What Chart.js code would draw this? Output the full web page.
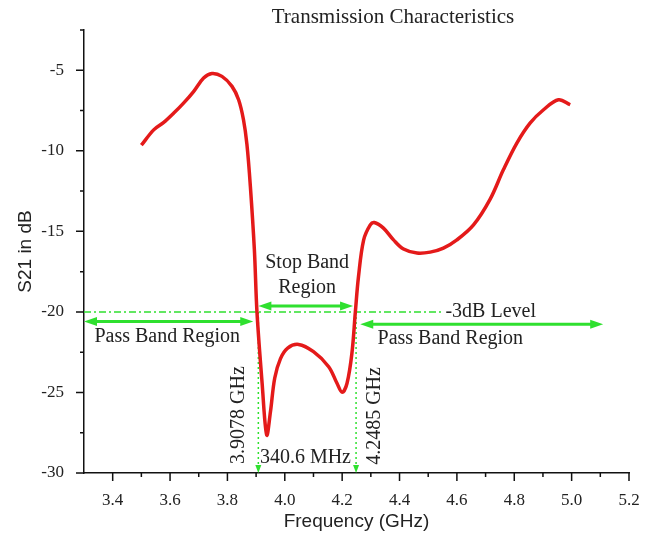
<!DOCTYPE html>
<html>
<head>
<meta charset="utf-8">
<script src="https://cdn.jsdelivr.net/npm/chart.js@4.4.0/dist/chart.umd.min.js"></script>
<style>
  html, body { margin: 0; padding: 0; background: #fff; }
</style>
</head>
<body>
<canvas id="s21Chart" width="651" height="539"></canvas>
<script>
// S21 curve (GHz, dB)
const freqGHz = [3.500, 3.543, 3.578, 3.613, 3.647, 3.682, 3.717, 3.746, 3.781, 3.816,
                 3.839, 3.856, 3.868, 3.880, 3.894, 3.903, 3.921, 3.937, 3.950, 3.965,
                 3.985, 4.010, 4.048, 4.100, 4.153, 4.182, 4.200, 4.217, 4.234, 4.246,
                 4.257, 4.275, 4.298, 4.312, 4.344, 4.379, 4.414, 4.461, 4.507, 4.553,
                 4.600, 4.658, 4.716, 4.762, 4.809, 4.855, 4.902, 4.954, 4.995];
const s21dB = [-9.65, -8.70, -8.24, -7.66, -7.04, -6.32, -5.48, -5.20, -5.38, -6.00,
               -6.83, -8.07, -9.60, -12.2, -16.15, -20.0, -24.43, -27.64, -26.20, -24.10,
               -22.90, -22.25, -22.02, -22.47, -23.40, -24.43, -24.99, -24.43, -22.57, -20.0,
               -17.80, -15.53, -14.60, -14.45, -14.80, -15.53, -16.10, -16.35, -16.29, -16.04,
               -15.53, -14.60, -13.00, -11.18, -9.52, -8.28, -7.45, -6.83, -7.14];

// axis ticks
const xTicks = [3.4, 3.6, 3.8, 4.0, 4.2, 4.4, 4.6, 4.8, 5.0, 5.2];
const xMinor = [3.5, 3.7, 3.9, 4.1, 4.3, 4.5, 4.7, 4.9, 5.1];
const yTicks = [-30, -25, -20, -15, -10, -5];
const yMinor = [-27.5, -22.5, -17.5, -12.5, -7.5, -2.5];

// band edges and the -3dB reference level
const cutLow = 3.9078;
const cutHigh = 4.2485;
const levelDb = -20;
const bandwidthText = '340.6 MHz';

// annotation arrows: [fromGHz, toGHz, dB]
const passLeft = [3.30, 3.89, -20.6];
const stopBand = [3.908, 4.238, -19.63];
const passRight = [4.263, 5.11, -20.76];

const green = '#2fe02f';
const textColor = '#222';
const serif = '"Liberation Serif", "Times New Roman", serif';

function arrowHead(ctx, x, y, angle, len, half) {
    ctx.save();
    ctx.translate(x, y);
    ctx.rotate(angle);
    ctx.beginPath();
    ctx.moveTo(0, 0);
    ctx.lineTo(-len, -half);
    ctx.lineTo(-len, half);
    ctx.closePath();
    ctx.fill();
    ctx.restore();
}

function doubleArrow(ctx, xs, ys, a) {
    const x1 = xs.getPixelForValue(a[0]);
    const x2 = xs.getPixelForValue(a[1]);
    const py = ys.getPixelForValue(a[2]);
    ctx.strokeStyle = green;
    ctx.fillStyle = green;
    ctx.lineWidth = 3;
    ctx.setLineDash([]);
    ctx.beginPath();
    ctx.moveTo(x1 + 8, py);
    ctx.lineTo(x2 - 8, py);
    ctx.stroke();
    arrowHead(ctx, x2, py, 0, 13, 4.5);
    arrowHead(ctx, x1, py, Math.PI, 13, 4.5);
}

function label(ctx, text, px, py, rotate) {
    ctx.save();
    ctx.translate(px, py);
    if (rotate) ctx.rotate(-Math.PI / 2);
    ctx.fillText(text, 0, 0);
    ctx.restore();
}

// green annotations, drawn under the red curve
const bandAnnotations = {
    id: 'bandAnnotations',
    beforeDatasetsDraw(chart) {
        const { ctx, scales: { x, y } } = chart;
        ctx.save();

        // -3dB level, dash-dot
        ctx.strokeStyle = green;
        ctx.lineWidth = 1.5;
        ctx.setLineDash([7, 3, 2, 3]);
        ctx.beginPath();
        ctx.moveTo(x.getPixelForValue(3.3), y.getPixelForValue(levelDb));
        ctx.lineTo(x.getPixelForValue(4.552), y.getPixelForValue(levelDb));
        ctx.stroke();

        // dotted drop lines at the band edges
        ctx.setLineDash([2, 3]);
        ctx.fillStyle = green;
        [cutLow, cutHigh].forEach(f => {
            const px = x.getPixelForValue(f);
            ctx.beginPath();
            ctx.moveTo(px, y.getPixelForValue(levelDb));
            ctx.lineTo(px, y.bottom - 6);
            ctx.stroke();
            arrowHead(ctx, px, y.bottom, Math.PI / 2, 8, 3);
        });

        doubleArrow(ctx, x, y, passLeft);
        doubleArrow(ctx, x, y, stopBand);
        doubleArrow(ctx, x, y, passRight);

        // texts
        ctx.fillStyle = textColor;
        ctx.font = '20px ' + serif;
        ctx.textAlign = 'center';
        ctx.textBaseline = 'middle';
        label(ctx, 'Pass Band Region', x.getPixelForValue(3.59), y.getPixelForValue(-21.55));
        label(ctx, 'Pass Band Region', x.getPixelForValue(4.577), y.getPixelForValue(-21.68));
        label(ctx, 'Stop Band', x.getPixelForValue(4.078), y.getPixelForValue(-16.96));
        label(ctx, 'Region', x.getPixelForValue(4.078), y.getPixelForValue(-18.5));
        label(ctx, bandwidthText, x.getPixelForValue(4.072), y.getPixelForValue(-29.07));
        label(ctx, cutLow.toFixed(4) + ' GHz', x.getPixelForValue(3.839), y.getPixelForValue(-26.4), true);
        label(ctx, cutHigh.toFixed(4) + ' GHz', x.getPixelForValue(4.313), y.getPixelForValue(-26.46), true);
        ctx.textAlign = 'left';
        label(ctx, '-3dB Level', x.getPixelForValue(4.56), y.getPixelForValue(-20.0));

        ctx.restore();
    }
};

// outward major/minor ticks and the title
const axisDecor = {
    id: 'axisDecor',
    afterDraw(chart) {
        const { ctx, scales: { x, y } } = chart;
        ctx.save();
        ctx.strokeStyle = '#111';
        ctx.lineWidth = 1.5;
        ctx.beginPath();
        xTicks.forEach(v => { const px = x.getPixelForValue(v); ctx.moveTo(px, x.top); ctx.lineTo(px, x.top + 8); });
        xMinor.forEach(v => { const px = x.getPixelForValue(v); ctx.moveTo(px, x.top); ctx.lineTo(px, x.top + 4); });
        yTicks.forEach(v => { const py = y.getPixelForValue(v); ctx.moveTo(y.right, py); ctx.lineTo(y.right - 8, py); });
        yMinor.forEach(v => { const py = y.getPixelForValue(v); ctx.moveTo(y.right, py); ctx.lineTo(y.right - 4, py); });
        ctx.stroke();

        ctx.fillStyle = textColor;
        ctx.font = '21px ' + serif;
        ctx.textAlign = 'center';
        ctx.textBaseline = 'alphabetic';
        ctx.fillText('Transmission Characteristics', 393, 23);
        ctx.restore();
    }
};

const ctx = document.getElementById('s21Chart').getContext('2d');
new Chart(ctx, {
    type: 'line',
    data: {
        datasets: [{
            label: 'S21',
            data: freqGHz.map((f, i) => ({ x: f, y: s21dB[i] })),
            borderColor: '#e41a1a',
            borderWidth: 3.5,
            pointRadius: 0,
            tension: 0.35,
            fill: false
        }]
    },
    options: {
        responsive: false,
        animation: false,
        layout: {
            padding: { top: 30, right: 22, left: 0, bottom: 0 }
        },
        plugins: {
            legend: { display: false },
            tooltip: { enabled: false }
        },
        scales: {
            x: {
                type: 'linear',
                min: 3.3,
                max: 5.2,
                afterBuildTicks: s => { s.ticks = xTicks.map(v => ({ value: v })); },
                afterFit: s => { s.height = 66; },
                grid: { display: false },
                border: { display: true, color: '#111', width: 1.5 },
                ticks: {
                    padding: 9,
                    maxRotation: 0,
                    color: textColor,
                    font: { family: serif, size: 17 },
                    callback: v => v.toFixed(1)
                },
                title: {
                    display: true,
                    text: 'Frequency (GHz)',
                    color: textColor,
                    font: { family: '"Liberation Sans", Arial, sans-serif', size: 19 },
                    padding: { top: 0, bottom: 6 }
                }
            },
            y: {
                type: 'linear',
                min: -30,
                max: -2.5,
                afterBuildTicks: s => { s.ticks = yTicks.map(v => ({ value: v })); },
                afterFit: s => { s.width = 84; },
                grid: { display: false },
                border: { display: true, color: '#111', width: 1.5 },
                ticks: {
                    padding: 12,
                    color: textColor,
                    font: { family: serif, size: 17 },
                    callback: v => String(v)
                },
                title: {
                    display: true,
                    text: 'S21 in dB',
                    color: textColor,
                    font: { family: '"Liberation Sans", Arial, sans-serif', size: 19 },
                    padding: { top: 14, bottom: 0 }
                }
            }
        }
    },
    plugins: [bandAnnotations, axisDecor]
});
</script>
</body>
</html>
